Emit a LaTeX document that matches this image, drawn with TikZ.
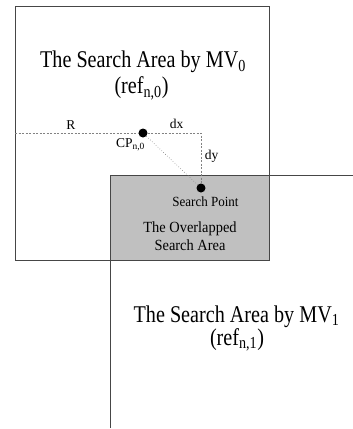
\documentclass[tikz,border=0pt]{standalone}
\usepackage{fontspec}
\setmainfont{Liberation Serif}
\newfontfamily\narrowserif[FakeStretch=0.84]{Liberation Serif}
\newfontfamily\slimserif[FakeStretch=0.93]{Liberation Serif}
\usetikzlibrary{positioning}
\definecolor{edgegray}{RGB}{70,70,70}
\definecolor{overlapgray}{RGB}{192,192,192}
\definecolor{guidegray}{RGB}{130,130,130}
\tikzset{
  arealine/.style={draw=edgegray, line width=0.9pt},
  guide/.style={draw=guidegray, dashed, dash pattern=on 2pt off 1.5pt, line width=0.6pt},
  diag/.style={draw=guidegray, dotted, line width=0.6pt},
  dot/.style={circle, fill=black, inner sep=0pt, minimum size=9pt},
  bigtext/.style={font=\narrowserif\fontsize{24}{28}\selectfont, anchor=base, inner sep=0pt},
  midtext/.style={font=\slimserif\fontsize{15.5}{18}\selectfont, anchor=base, inner sep=0pt},
  smalltext/.style={font=\fontsize{13.5}{16}\selectfont, anchor=base, inner sep=0pt}
}

\begin{document}
\begin{tikzpicture}[x=1pt,y=-1pt]
                \useasboundingbox (0,0) rectangle (353,429);
                \fill[overlapgray] (110,175) rectangle (269,260);
                \draw[arealine] (15,6) rectangle (269,260);
                \draw[arealine] (110,428) -- (110,175) -- (353,175);
                \coordinate (rstart) at (15,133);
                \coordinate (corner) at (201,133);
                \node[dot] (cp) at (143,133) {};
                \node[dot] (sp) at (201,188) {};
                \draw[guide] (rstart) -- (cp) -- (corner) -- (sp);
                \draw[diag] (cp) -- (sp);
                \node[bigtext] (area0) at (143,67.5) {The Search Area by MV\textsubscript{0}};
                \node[bigtext] (ref0) at (141.5,93.5) {(ref\textsubscript{n,0})};
                \node[smalltext] (rlabel) at (71,129) {R};
                \node[smalltext] (dxlabel) at (176.5,128) {dx};
                \node[smalltext] (dylabel) at (211.5,159) {dy};
                \node[smalltext] (cplabel) at (130.5,147.5) {CP\textsubscript{n,0}};
                \node[font=\slimserif\fontsize{14}{16}\selectfont, anchor=base, inner sep=0pt] (splabel) at (205.5,206.5) {Search Point};
                \node[midtext] (overlap1) at (190,232) {The Overlapped};
                \node[midtext] (overlap2) at (190,250.5) {Search Area};
                \node[bigtext] (area1) at (236.5,322) {The Search Area by MV\textsubscript{1}};
                \node[bigtext] (ref1) at (237,345) {(ref\textsubscript{n,1})};
            \end{tikzpicture}
\end{document}
